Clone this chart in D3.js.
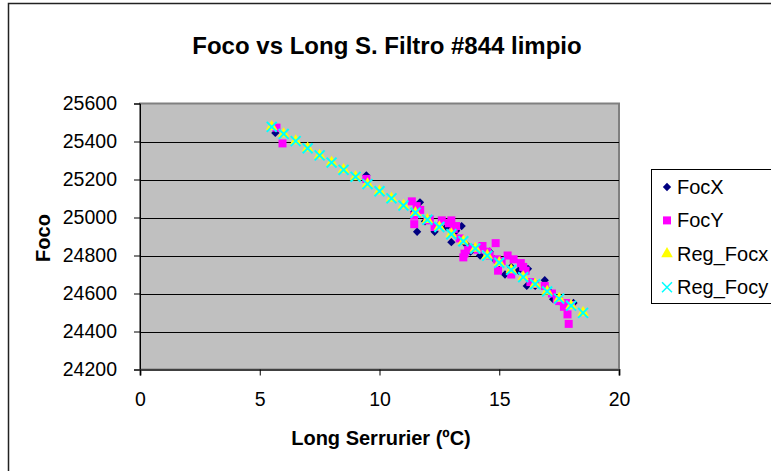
<!DOCTYPE html>
<html>
<head>
<meta charset="utf-8">
<script src="https://cdn.jsdelivr.net/npm/d3@7"></script>
<style>
  html, body { margin: 0; padding: 0; background: #fff; }
  svg { display: block; font-family: "Liberation Sans", Arial, sans-serif; }
</style>
</head>
<body>
<svg id="chart" width="771" height="471"></svg>
<script>
// Measured focus, X and Y channels, against Serrurier length (ºC)
const focXTemp = [5.65, 9.45, 11.45, 11.57, 11.69, 11.9, 12.3, 12.5, 12.8, 13.0, 13.2, 13.43, 13.6, 13.8, 14.2, 14.6, 14.8, 15.0, 15.24, 15.5, 15.8, 16.15, 16.2, 16.5, 16.9, 17.1, 17.25, 17.5, 17.8, 18.1];
const focXVal  = [25445, 25222, 25030, 24925, 25080, 24980, 24925, 24960, 24950, 24870, 24930, 24955, 24860, 24820, 24800, 24820, 24780, 24760, 24700, 24740, 24720, 24640, 24730, 24640, 24670, 24610, 24570, 24560, 24540, 24550];

const focYTemp = [5.7, 5.95, 9.45, 11.35, 11.45, 11.7, 11.45, 11.55, 12.0, 12.1, 12.3, 12.6, 12.9, 13.0, 13.1, 13.2, 13.35, 13.5, 13.55, 13.7, 13.9, 14.1, 14.3, 14.5, 14.6, 14.85, 14.9, 14.95, 15.1, 15.35, 15.6, 15.5, 15.9, 16.1, 16.0, 16.3, 16.5, 16.9, 17.2, 17.4, 17.5, 17.7, 17.8, 17.85, 17.9, 18.0];
const focYVal  = [25473, 25390, 25203, 25085, 25010, 25040, 24965, 25060, 24985, 24990, 24950, 24985, 24970, 24985, 24940, 24955, 24890, 24790, 24810, 24830, 24840, 24830, 24850, 24820, 24800, 24865, 24780, 24720, 24770, 24800, 24780, 24700, 24760, 24720, 24740, 24660, 24650, 24640, 24600, 24570, 24560, 24530, 24550, 24490, 24440, 24540];

// Regression estimates for each channel
const regTemp  = [5.5, 6, 6.5, 7, 7.5, 8, 8.5, 9, 9.5, 10, 10.5, 11, 11.5, 12, 12.5, 13, 13.5, 14, 14.5, 15, 15.5, 16, 16.5, 17, 17.5, 18, 18.5];
const regFocx  = [25478, 25440, 25403, 25365, 25327, 25290, 25252, 25214, 25177, 25139, 25101, 25064, 25026, 24988, 24950, 24913, 24875, 24837, 24800, 24762, 24724, 24687, 24649, 24611, 24574, 24536, 24499];
const regFocy  = [25477, 25440, 25402, 25364, 25327, 25289, 25251, 25214, 25176, 25138, 25101, 25063, 25025, 24988, 24950, 24912, 24875, 24837, 24799, 24762, 24724, 24686, 24649, 24611, 24573, 24536, 24498];

const xTicks = [0, 5, 10, 15, 20];
const yTicks = [24200, 24400, 24600, 24800, 25000, 25200, 25400, 25600];

const seriesNames = ["FocX", "FocY", "Reg_Focx", "Reg_Focy"];

const svg = d3.select("#chart");

// Outer chart frame (runs past the right and bottom edges)
svg.append("rect")
  .attr("x", 8.5).attr("y", 3.5)
  .attr("width", 800).attr("height", 500)
  .attr("fill", "#fff").attr("stroke", "#222").attr("stroke-width", 1.5);

const plot = { left: 140, right: 619, top: 103.5, bottom: 369.5 };

const x = d3.scaleLinear().domain([0, 20]).range([plot.left, plot.right]);
const y = d3.scaleLinear().domain([24200, 25600]).range([plot.bottom, plot.top]);

// Plot area background with grey border
svg.append("rect")
  .attr("x", plot.left).attr("y", plot.top)
  .attr("width", plot.right - plot.left).attr("height", plot.bottom - plot.top)
  .attr("fill", "#c0c0c0").attr("stroke", "#808080").attr("stroke-width", 2);

// Horizontal gridlines
svg.append("g")
  .selectAll("line")
  .data(yTicks.filter(v => v > 24200 && v < 25600))
  .join("line")
  .attr("x1", plot.left).attr("x2", plot.right)
  .attr("y1", d => Math.round(y(d)) + 0.5).attr("y2", d => Math.round(y(d)) + 0.5)
  .attr("stroke", "#000").attr("stroke-width", 1);

// Axes
const yAxis = d3.axisLeft(y).tickValues(yTicks).tickSize(6).tickPadding(17).tickFormat(d3.format("d"));
const xAxis = d3.axisBottom(x).tickValues(xTicks).tickSize(6).tickPadding(17).tickFormat(d3.format("d"));

const gy = svg.append("g").attr("transform", `translate(${plot.left},0)`).call(yAxis);
const gx = svg.append("g").attr("transform", `translate(0,${plot.bottom})`).call(xAxis);

[gx, gy].forEach(g => {
  g.select(".domain").attr("stroke", "#000").attr("stroke-width", 1);
  g.selectAll(".tick line").attr("stroke", "#000");
  g.selectAll(".tick text")
    .attr("fill", "#000")
    .style("font-family", "'Liberation Sans', Arial, sans-serif")
    .style("font-size", "19.5px");
});
gx.select(".domain").attr("stroke", "#404040").attr("stroke-width", 2);

// Titles
svg.append("text")
  .attr("x", 387).attr("y", 54)
  .attr("text-anchor", "middle")
  .style("font-weight", "bold").style("font-size", "24px")
  .text("Foco vs Long S. Filtro #844 limpio");

svg.append("text")
  .attr("x", 381).attr("y", 445)
  .attr("text-anchor", "middle")
  .style("font-weight", "bold").style("font-size", "20px")
  .text("Long Serrurier (ºC)");

svg.append("text")
  .attr("transform", "translate(50,238) rotate(-90)")
  .attr("text-anchor", "middle")
  .style("font-weight", "bold").style("font-size", "20px")
  .text("Foco");

// Marker shapes
const diamond = d3.symbol().type(d3.symbolDiamond2).size(44);
const square = d3.symbol().type(d3.symbolSquare).size(64);
const triangle = d3.symbol().type(d3.symbolTriangle).size(58);
const cross = d3.symbol().type(d3.symbolX).size(66);

function drawSeries(temps, vals, shape, style) {
  const g = svg.append("g");
  const sel = g.selectAll("path")
    .data(temps.map((t, i) => [t, vals[i]]))
    .join("path")
    .attr("d", shape)
    .attr("transform", d => `translate(${x(d[0])},${y(d[1])})`);
  style(sel);
}

drawSeries(focXTemp, focXVal, diamond, s => s.attr("fill", "#000080"));
drawSeries(focYTemp, focYVal, square, s => s.attr("fill", "#ff00ff"));
drawSeries(regTemp, regFocx, triangle, s => s.attr("fill", "#ffff00"));
drawSeries(regTemp, regFocy, cross, s => s.attr("fill", "none").attr("stroke", "#00ffff").attr("stroke-width", 2));

// Legend (box continues past the right edge)
const legend = svg.append("g");
legend.append("rect")
  .attr("x", 651.5).attr("y", 169.5)
  .attr("width", 160).attr("height", 134)
  .attr("fill", "#fff").attr("stroke", "#000");

const legendShapes = [
  { shape: diamond, fill: "#000080", stroke: "none" },
  { shape: square, fill: "#ff00ff", stroke: "none" },
  { shape: triangle, fill: "#ffff00", stroke: "none" },
  { shape: cross, fill: "none", stroke: "#00ffff" }
];

const items = legend.selectAll("g.item")
  .data(seriesNames)
  .join("g")
  .attr("class", "item")
  .attr("transform", (d, i) => `translate(667,${187 + i * 33.4})`);

items.append("path")
  .attr("d", (d, i) => legendShapes[i].shape())
  .attr("fill", (d, i) => legendShapes[i].fill)
  .attr("stroke", (d, i) => legendShapes[i].stroke)
  .attr("stroke-width", 1.5);

items.append("text")
  .attr("x", 10).attr("y", 7)
  .style("font-size", "20px")
  .text(d => d);
</script>
</body>
</html>
